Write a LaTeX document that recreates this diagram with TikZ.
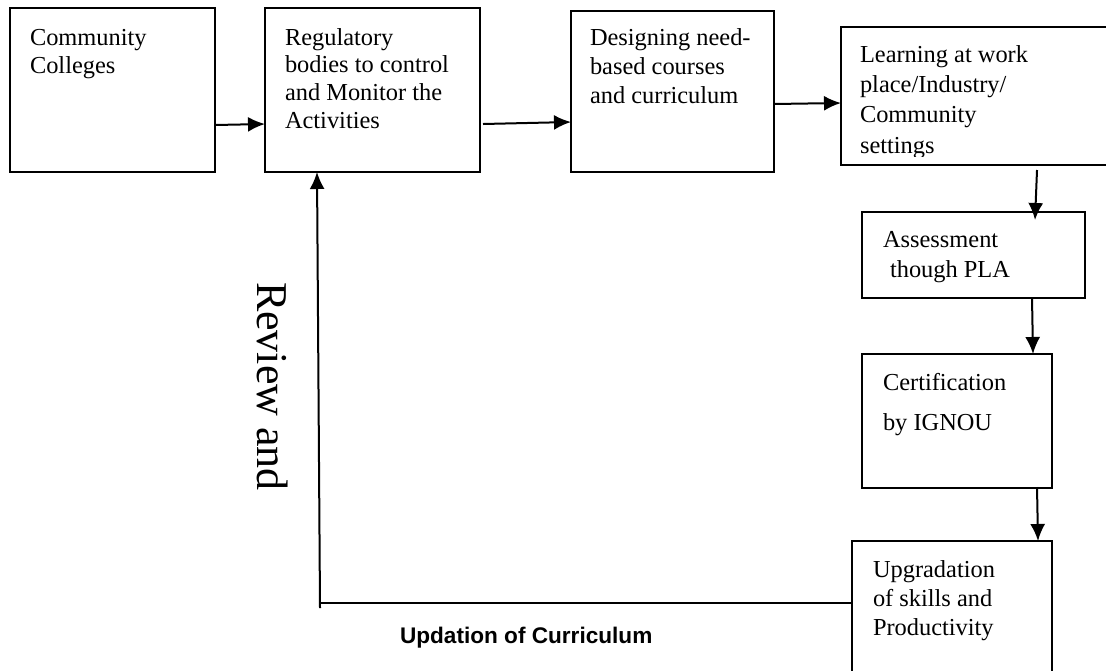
\documentclass[tikz,border=0pt]{standalone}
\usepackage{fontspec}
\setmainfont{Liberation Serif}
\newfontfamily\boldsans{Liberation Sans}
\usetikzlibrary{arrows.meta}
\newcommand\boxlines[2]{{\fontsize{12.2}{#1}\selectfont\begin{tabular}[t]{@{}l@{}}#2\end{tabular}}}
\begin{document}
\begin{tikzpicture}[x=0.5pt,y=-0.5pt,
  stepbox/.style={draw=black,line width=1pt},
  txt/.style={anchor=base west,inner sep=0pt,outer sep=0pt},
  flow/.style={line width=1pt,-{Latex[length=8.5pt,width=7.5pt]}},
  plain/.style={line width=1pt}]
\useasboundingbox (0,0) rectangle (1106,670);
% boxes
\draw[stepbox] (10,8) rectangle (215,172);
\draw[stepbox] (265,8) rectangle (480,172);
\draw[stepbox] (571,11) rectangle (774,172);
\draw[stepbox] (841,27) rectangle (1112,165);
\draw[stepbox] (862,212) rectangle (1085,298);
\draw[stepbox] (862,354) rectangle (1052,488);
\draw[stepbox] (852,541) rectangle (1052,680);
% texts
\node[txt] (t1) at (30,45) {\boxlines{14pt}{Community\\Colleges}};
\node[txt] (t2) at (285,45) {\boxlines{13.9pt}{Regulatory\\bodies to control\\and Monitor the\\Activities}};
\node[txt] (t3) at (590,45) {\boxlines{14.6pt}{Designing need-\\based courses\\and curriculum}};
\begin{scope}
\clip (841,27) rectangle (1112,156);
\node[txt] (t4) at (860,62) {\boxlines{15.2pt}{Learning at work\\place/Industry/\\Community\\settings}};
\end{scope}
\node[txt] (t5) at (883,247) {\boxlines{15pt}{Assessment\\\hspace{3.5pt}though PLA}};
\node[txt] (t6) at (883,390) {\boxlines{20pt}{Certification\\by IGNOU}};
\node[txt] (t7) at (873,577) {\boxlines{14.5pt}{Upgradation\\of skills and\\Productivity}};
\node[txt,rotate=-90] (rev) at (257,282) {\fontsize{22}{26}\selectfont Review and};
\node[txt] (upd) at (400,643) {\boldsans\bfseries\fontsize{11.3}{13}\selectfont Updation of Curriculum};
% connector points
\coordinate (a1) at (215,125); \coordinate (b1) at (265,124);
\coordinate (a2) at (483,124); \coordinate (b2) at (571,122);
\coordinate (a3) at (774,104); \coordinate (b3) at (841,103);
\coordinate (a4) at (1037,170); \coordinate (b4) at (1035,220);
\coordinate (a5) at (1032,298); \coordinate (b5) at (1033,354);
\coordinate (a6) at (1037,487); \coordinate (b6) at (1038,541);
\coordinate (f1) at (852,603); \coordinate (f2) at (320,603);
\coordinate (f3) at (317,172); \coordinate (f0) at (320,608);
\draw[flow] (a1) -- (b1);
\draw[flow] (a2) -- (b2);
\draw[flow] (a3) -- (b3);
\draw[flow] (a4) -- (b4);
\draw[flow] (a5) -- (b5);
\draw[flow] (a6) -- (b6);
\draw[plain] (f1) -- (f2);
\draw[flow] (f0) -- (f3);
\end{tikzpicture}
\end{document}
